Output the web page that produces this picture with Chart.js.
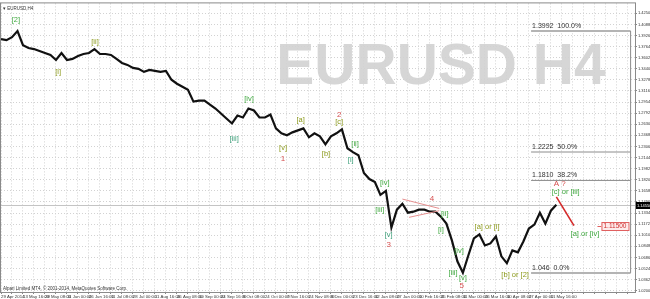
<!DOCTYPE html>
<html lang="en">
<head>
<meta charset="UTF-8">
<title>EURUSD H4</title>
<style>
  html, body { margin: 0; padding: 0; background: #fff; }
  #box { width: 650px; height: 299px; }
</style>
<script src="https://cdn.jsdelivr.net/npm/chart.js"></script>
</head>
<body>
<div id="box"><canvas id="fx" width="650" height="299"></canvas></div>
<script>
// one sample = 16 H4 bars, a date label every 4 samples
const dateLabels = ['29 Apr 2014', '13 May 16:00', '29 May 08:00', '11 Jun 00:00', '26 Jun 16:00', '11 Jul 08:00',
    '28 Jul 00:00', '11 Aug 16:00', '26 Aug 08:00', '10 Sep 00:00', '24 Sep 16:00', '9 Oct 08:00', '24 Oct 00:00',
    '7 Nov 16:00', '24 Nov 08:00', '9 Dec 00:00', '23 Dec 16:00', '12 Jan 08:00', '27 Jan 00:00', '10 Feb 16:00',
    '25 Feb 08:00', '11 Mar 00:00', '26 Mar 16:00', '10 Apr 08:00', '27 Apr 00:00', '11 May 16:00'];

const closes = [
    1.3873, 1.3859, 1.3902, 1.3992, 1.3786, 1.3743, 1.3728, 1.3699, 1.3671, 1.3642,
    1.3569, 1.3671, 1.3569, 1.3584, 1.3627, 1.3656, 1.3671, 1.3728, 1.3656, 1.3656,
    1.3642, 1.3584, 1.3526, 1.3497, 1.3453, 1.3439, 1.3395, 1.3424, 1.3410, 1.3395,
    1.3410, 1.3280, 1.3222, 1.3178, 1.3135, 1.2961, 1.2975, 1.2975, 1.2918, 1.2860,
    1.2787, 1.2715, 1.2642, 1.2758, 1.2729, 1.2860, 1.2831, 1.2729, 1.2729, 1.2773,
    1.2570, 1.2498, 1.2469, 1.2512, 1.2541, 1.2570, 1.2440, 1.2498, 1.2454, 1.2338,
    1.2454, 1.2498, 1.2556, 1.2280, 1.2223, 1.2179, 1.1918, 1.1831, 1.1788, 1.1600,
    1.1658, 1.1122, 1.1383, 1.1470, 1.1339, 1.1354, 1.1383, 1.1383, 1.1354, 1.1354,
    1.1281, 1.1180, 1.0934, 1.0630, 1.0462, 1.0717, 1.0963, 1.1021, 1.0861, 1.0890,
    1.0992, 1.0702, 1.0601, 1.0789, 1.0760, 1.0919, 1.1107, 1.1165, 1.1339, 1.1180,
    1.1368, 1.1455];

const yTicks = [1.4250, 1.4088, 1.3926, 1.3764, 1.3602, 1.3440, 1.3278, 1.3116, 1.2954, 1.2792,
    1.2630, 1.2468, 1.2306, 1.2144, 1.1982, 1.1820, 1.1658, 1.1496, 1.1334, 1.1172,
    1.1010, 1.0848, 1.0686, 1.0524, 1.0362, 1.0200];

// fibonacci retracement
const fibPrices = [1.3992, 1.2225, 1.1810, 1.046];
const fibNames = ['1.3992  100.0%', '1.2225  50.0%', '1.1810  38.2%', '1.046  0.0%'];
const fibSpan = [96.4, 114.5];

// wave counts: text, sample, price, colour
const waves = [
    ['[2]', 2.7, 1.4148, 'g'], ['[i]', 10.4, 1.3395, 'o'], ['[ii]', 17.1, 1.3830, 'o'],
    ['[iii]', 42.4, 1.2411, 't'], ['[iv]', 45.1, 1.3004, 'g'], ['[v]', 51.3, 1.2280, 'o'],
    ['1', 51.3, 1.2121, 'r'], ['[a]', 54.5, 1.2700, 'o'], ['2', 61.5, 1.2773, 'r'],
    ['[c]', 61.5, 1.2657, 'o'], ['[b]', 59.1, 1.2194, 'o'], ['[ii]', 64.4, 1.2338, 'g'],
    ['[i]', 63.6, 1.2107, 't'], ['[iv]', 69.8, 1.1774, 'g'], ['[iii]', 68.9, 1.1383, 'g'],
    ['[v]', 70.5, 1.1021, 't'], ['3', 70.5, 1.0876, 'r'], ['4', 78.4, 1.1542, 'r'],
    ['[ii]', 80.7, 1.1325, 'g'], ['[i]', 80.0, 1.1093, 'g'], ['[iv]', 83.3, 1.0775, 'g'],
    ['[iii]', 82.2, 1.0456, 'g'], ['[v]', 84.0, 1.0383, 'g'], ['5', 83.8, 1.0268, 'r'],
    ['[a] or [i]', 88.4, 1.1137, 'o'], ['[b] or [2]', 93.5, 1.0427, 'o'], ['A ?', 101.6, 1.1759, 'r'],
    ['[c] or [iii]', 102.7, 1.1643, 'g'], ['[a] or [iv]', 106.2, 1.1035, 'g']];
const waveColours = { g: '#3fa83f', o: '#8c9a1c', t: '#3a9e78', r: '#d65050' };

const target = 1.115;
const targetAt = 109.2;
const trendLine = [[101.0, 1.1570], [104.2, 1.1150]];
const triangleTop = [[73.0, 1.1538], [79.7, 1.1401]];
const triangleBottom = [[74.2, 1.1271], [79.7, 1.1368]];

const FONT = '"Liberation Sans", Arial, sans-serif';

function seg(ctx, x, y, pts) {
    ctx.beginPath();
    ctx.moveTo(x.getPixelForValue(pts[0][0]), y.getPixelForValue(pts[0][1]));
    ctx.lineTo(x.getPixelForValue(pts[1][0]), y.getPixelForValue(pts[1][1]));
    ctx.stroke();
}

const overlay = {
    id: 'overlay',
    beforeDraw(chart) {
        const { ctx, chartArea: a } = chart;
        ctx.save();
        ctx.fillStyle = '#fff';
        ctx.fillRect(0, 0, chart.width, chart.height);
        ctx.font = 'bold 57px ' + FONT;
        ctx.fillStyle = '#d6d6d6';
        ctx.textAlign = 'center';
        ctx.fillText('EURUSD H4', a.left + a.width * 0.694, a.top + 81);
        ctx.restore();
    },
    beforeDatasetsDraw(chart) {
        const { ctx, chartArea: a, scales: { y } } = chart;
        const py = Math.round(y.getPixelForValue(closes[closes.length - 1])) + 0.5;
        ctx.save();
        ctx.strokeStyle = '#c4c4c4';
        ctx.lineWidth = 1;
        ctx.beginPath();
        ctx.moveTo(a.left, py);
        ctx.lineTo(a.right, py);
        ctx.stroke();
        ctx.restore();
    },
    afterDatasetsDraw(chart) {
        const { ctx, scales: { x, y } } = chart;
        ctx.save();
        // fibo
        const fx0 = x.getPixelForValue(fibSpan[0]), fx1 = x.getPixelForValue(fibSpan[1]);
        fibPrices.forEach((p, i) => {
            const py = y.getPixelForValue(p);
            const edge = i === 0 || i === fibPrices.length - 1;
            ctx.strokeStyle = edge ? '#b4b4b4' : '#8c8c8c';
            ctx.lineWidth = edge ? 2 : 1;
            ctx.beginPath();
            ctx.moveTo(fx0, py);
            ctx.lineTo(fx1, py);
            ctx.stroke();
            ctx.fillStyle = '#333';
            ctx.font = '7px ' + FONT;
            ctx.textAlign = 'left';
            ctx.textBaseline = 'alphabetic';
            ctx.fillText(fibNames[i], fx0 + 1, py - 3);
        });
        ctx.strokeStyle = '#8c8c8c';
        ctx.lineWidth = 1;
        ctx.beginPath();
        ctx.moveTo(fx1, y.getPixelForValue(fibPrices[0]));
        ctx.lineTo(fx1, y.getPixelForValue(fibPrices[fibPrices.length - 1]));
        ctx.stroke();

        // triangle and projection
        ctx.strokeStyle = '#e69090';
        ctx.lineWidth = 1;
        seg(ctx, x, y, triangleTop);
        seg(ctx, x, y, triangleBottom);
        ctx.strokeStyle = '#d42a2a';
        ctx.lineWidth = 1.6;
        seg(ctx, x, y, trendLine);

        // wave labels
        ctx.textAlign = 'center';
        ctx.textBaseline = 'middle';
        waves.forEach(([t, sx, p, c]) => {
            ctx.fillStyle = waveColours[c];
            ctx.font = (c === 'r' ? '8px ' : '7.5px ') + FONT;
            ctx.fillText(t, x.getPixelForValue(sx), y.getPixelForValue(p));
        });

        // target box
        const tx = x.getPixelForValue(targetAt), ty = Math.round(y.getPixelForValue(target));
        ctx.font = '6.5px ' + FONT;
        const tw = ctx.measureText('1.11500').width + 4;
        ctx.strokeStyle = '#e06060';
        ctx.lineWidth = 1;
        ctx.beginPath();
        ctx.moveTo(tx - 4, ty + 0.5);
        ctx.lineTo(tx, ty + 0.5);
        ctx.stroke();
        ctx.fillStyle = '#fdeaea';
        ctx.fillRect(tx, ty - 4, tw, 9);
        ctx.strokeRect(tx + 0.5, ty - 3.5, tw, 8);
        ctx.fillStyle = '#d03030';
        ctx.textAlign = 'left';
        ctx.fillText('1.11500', tx + 2, ty + 0.5);
        ctx.restore();
    },
    afterDraw(chart) {
        const { ctx, chartArea: a, scales: { y } } = chart;
        ctx.save();
        ctx.strokeStyle = '#8a8a8a';
        ctx.lineWidth = 1;
        ctx.strokeRect(a.left - 0.5, a.top - 0.5, a.right - a.left + 1, a.bottom - a.top + 1);

        // current price box
        const last = closes[closes.length - 1];
        const py = Math.round(y.getPixelForValue(last));
        ctx.fillStyle = '#000';
        ctx.fillRect(a.right + 1, py - 3, chart.width - a.right - 1, 7);
        ctx.fillStyle = '#fff';
        ctx.font = '4px ' + FONT;
        ctx.textAlign = 'left';
        ctx.textBaseline = 'middle';
        ctx.fillText(last.toFixed(5), a.right + 2, py + 0.5);

        ctx.fillStyle = '#333';
        ctx.font = '4.5px ' + FONT;
        ctx.fillText('\u25BE EURUSD,H4', a.left + 2, a.top + 5);
        ctx.fillText('Alpari Limited MT4, \u00A9 2001-2014, MetaQuotes Software Corp.', a.left + 2, a.bottom - 3);
        ctx.restore();
    }
};

const xGrid = [];
for (let i = 0; i <= 114; i += 2) xGrid.push(i);

new Chart(document.getElementById('fx'), {
    type: 'line',
    data: {
        datasets: [{
            data: closes.map((c, i) => ({ x: i, y: c })),
            borderColor: '#111',
            borderWidth: 2.2,
            pointRadius: 0,
            tension: 0,
            fill: false
        }]
    },
    options: {
        responsive: false,
        animation: false,
        events: [],
        layout: { padding: { left: 1, top: 1, right: 0, bottom: 0 } },
        plugins: { legend: { display: false }, tooltip: { enabled: false } },
        scales: {
            x: {
                type: 'linear',
                min: 0,
                max: 115.3,
                afterBuildTicks: s => { s.ticks = xGrid.map(v => ({ value: v })); },
                afterFit: s => { s.height = 7; },
                grid: { color: '#d2d2d2', tickLength: 2, tickColor: '#888' },
                border: { display: false, dash: [1, 2] },
                ticks: {
                    autoSkip: false, maxRotation: 0, minRotation: 0, align: 'start', padding: 0,
                    color: '#333', font: { size: 4.3, family: FONT },
                    callback: v => (v % 4 === 0 && dateLabels[v / 4]) ? dateLabels[v / 4] : ''
                }
            },
            y: {
                position: 'right',
                min: 1.0181,
                max: 1.4395,
                afterBuildTicks: s => { s.ticks = yTicks.map(v => ({ value: v })); },
                afterFit: s => { s.width = 15; },
                grid: { color: '#d2d2d2', tickLength: 2, tickColor: '#888' },
                border: { display: false, dash: [1, 2] },
                ticks: {
                    padding: 1, color: '#333', font: { size: 4, family: FONT },
                    callback: v => v.toFixed(5)
                }
            }
        }
    },
    plugins: [overlay]
});
</script>
</body>
</html>
